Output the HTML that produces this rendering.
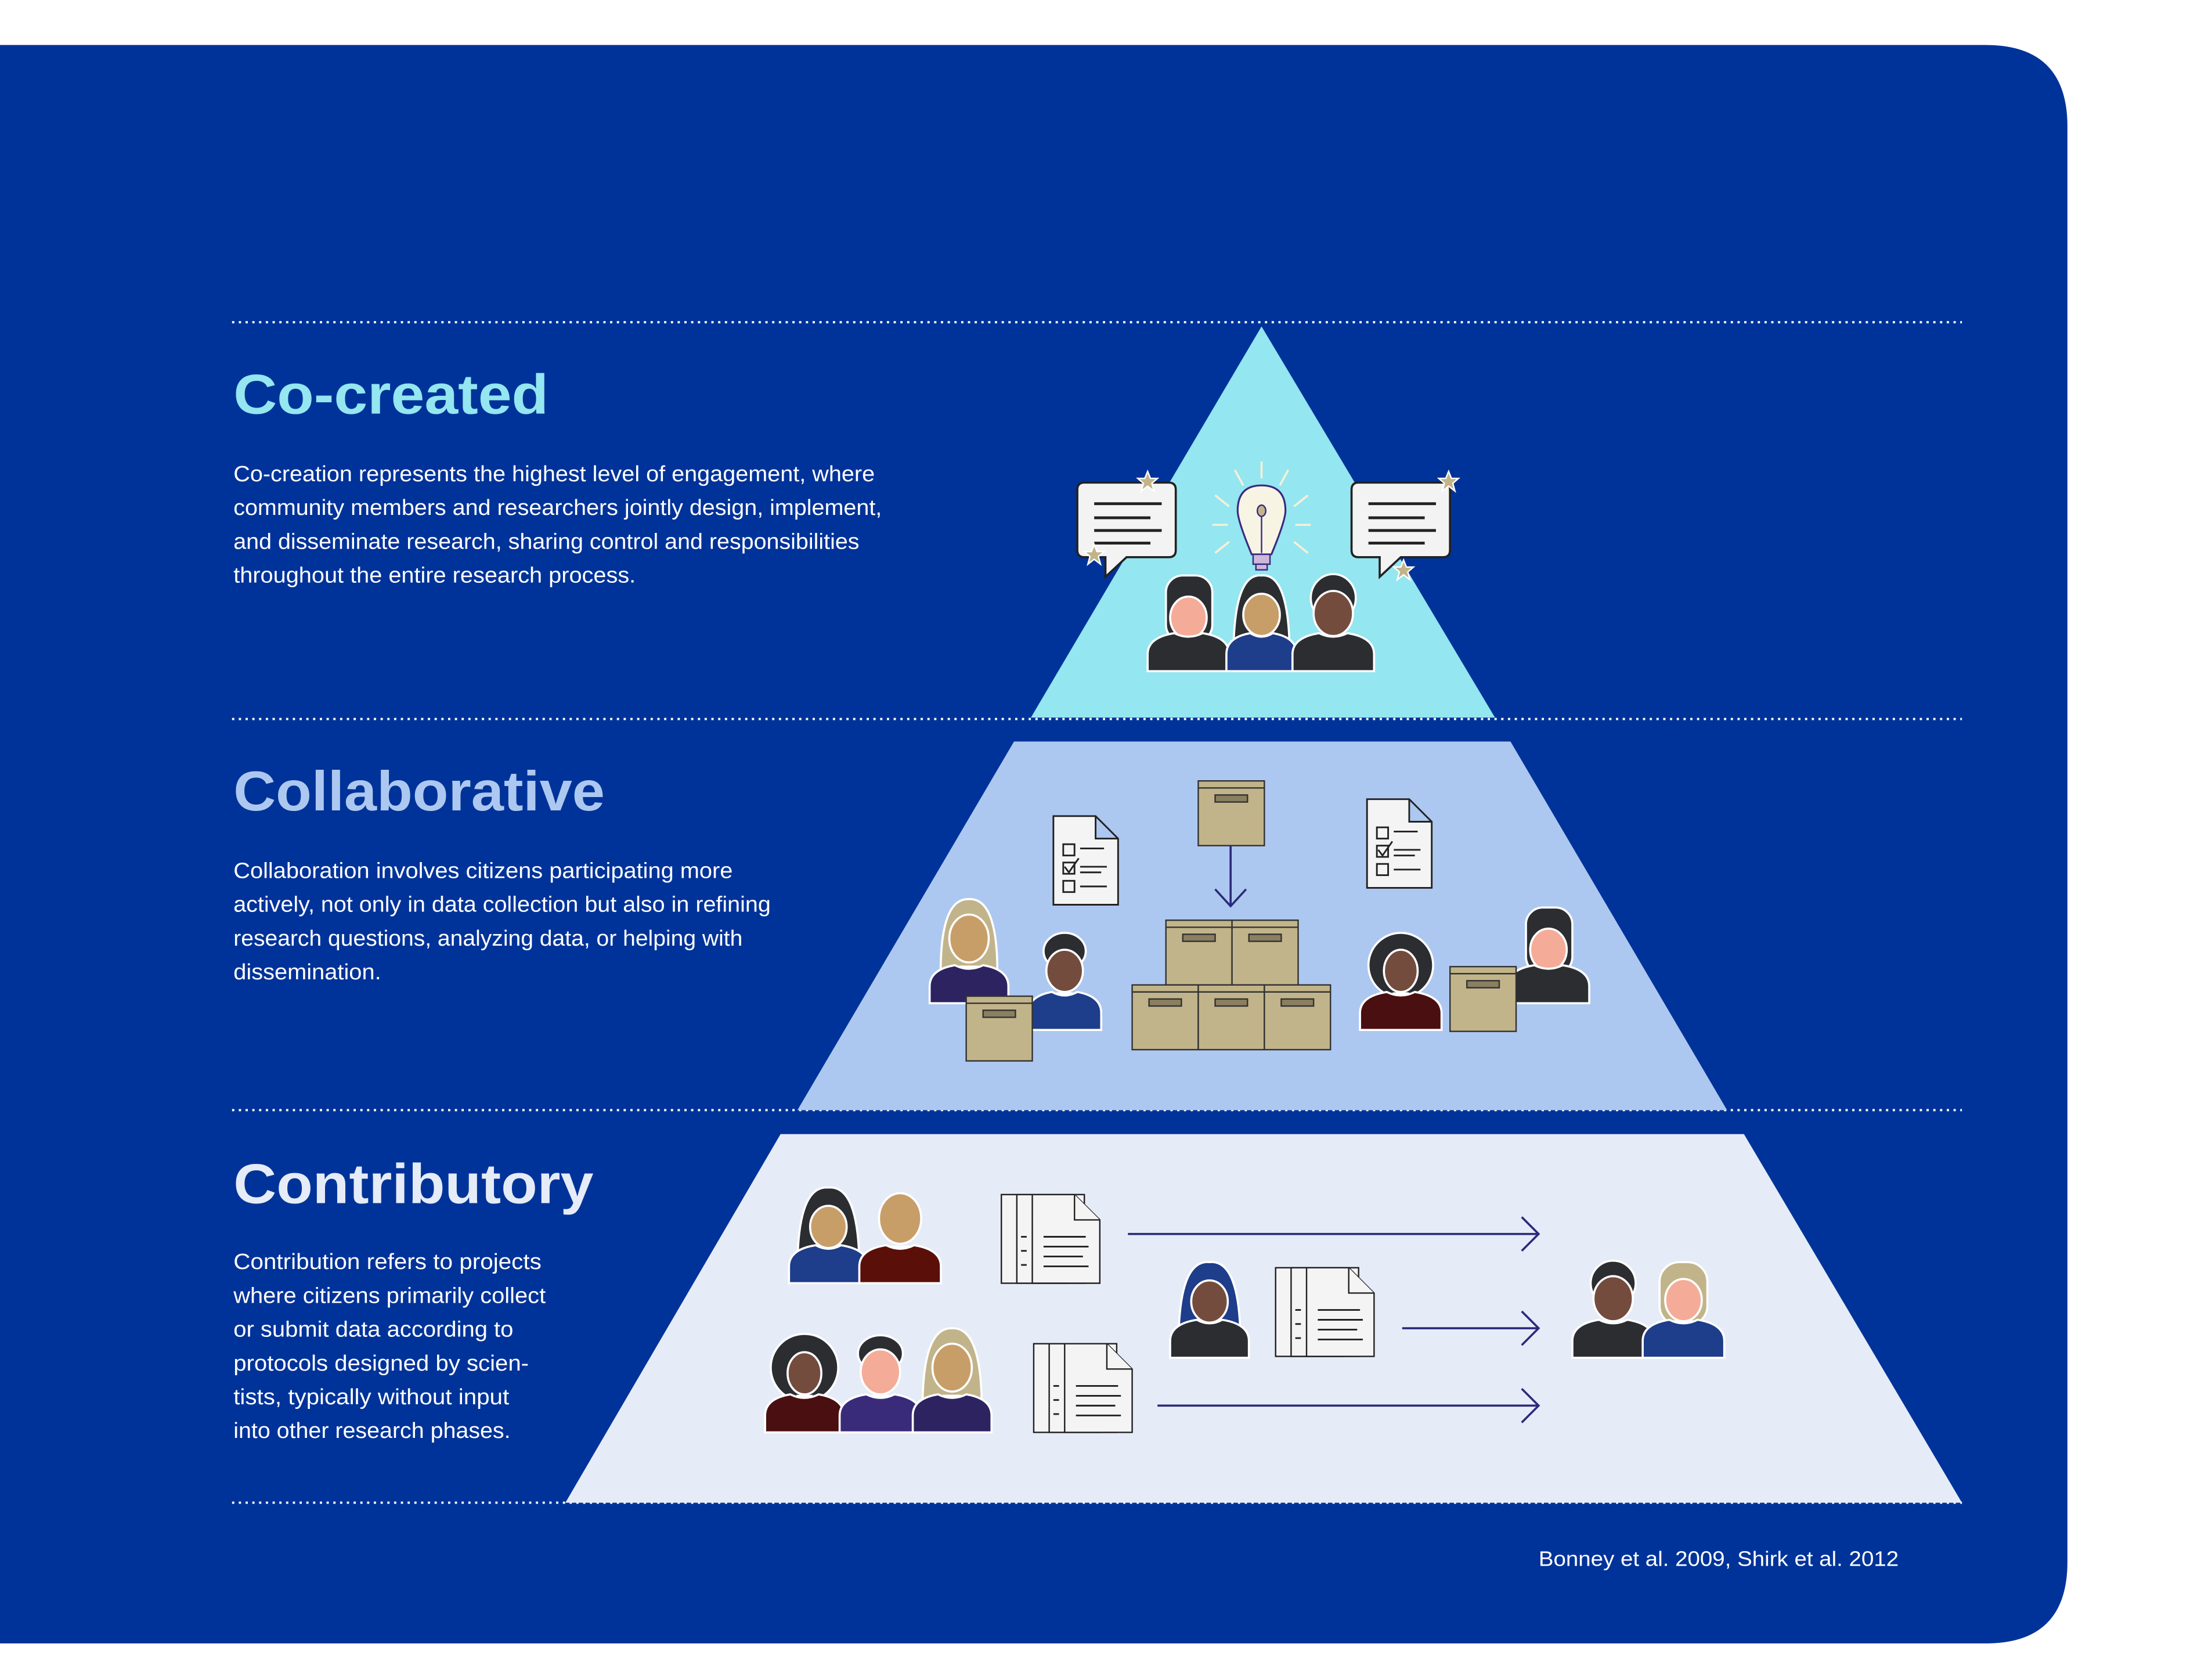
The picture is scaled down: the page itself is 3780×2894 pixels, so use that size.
<!DOCTYPE html>
<html><head><meta charset="utf-8"><style>
html,body{margin:0;padding:0;background:#fff}
svg{display:block}
text{font-family:"Liberation Sans",sans-serif}
</style></head><body>
<svg width="3780" height="2894" viewBox="0 0 1560 1194" preserveAspectRatio="none" xmlns="http://www.w3.org/2000/svg">
<rect width="1560" height="1194" fill="#fff"/>
<path d="M0,32 H1412 Q1470,32 1470,90 V1110 Q1470,1168 1412,1168 H0 Z" fill="#003399"/>
<g stroke="#fff" stroke-width="1.6" stroke-dasharray="1.6 3.2">
<line x1="165" y1="229" x2="1395" y2="229"/><line x1="165" y1="511" x2="1395" y2="511"/>
<line x1="165" y1="789" x2="1395" y2="789"/><line x1="165" y1="1068" x2="1395" y2="1068"/>
</g>
<polygon points="897,232 1063,510 733,510" fill="#94e6f0"/>
<polygon points="721,527 1074,527 1228,789 567,789" fill="#adc8f0"/>
<polygon points="555,806 1240,806 1395,1068 402,1068" fill="#e5ecf7"/>

<g lengthAdjust="spacingAndGlyphs">
<text x="166" y="294" font-size="40" font-weight="bold" fill="#94e6f0" textLength="224" lengthAdjust="spacingAndGlyphs">Co-created</text>
<text x="166" y="576" font-size="40" font-weight="bold" fill="#adc8f0" textLength="264" lengthAdjust="spacingAndGlyphs">Collaborative</text>
<text x="166" y="855" font-size="40" font-weight="bold" fill="#e5ecf7" textLength="256" lengthAdjust="spacingAndGlyphs">Contributory</text>
</g>
<g font-size="15.5" fill="#fff">
<text x="166" y="342" textLength="456" lengthAdjust="spacingAndGlyphs">Co-creation represents the highest level of engagement, where</text>
<text x="166" y="366" textLength="461" lengthAdjust="spacingAndGlyphs">community members and researchers jointly design, implement,</text>
<text x="166" y="390" textLength="445" lengthAdjust="spacingAndGlyphs">and disseminate research, sharing control and responsibilities</text>
<text x="166" y="414" textLength="286" lengthAdjust="spacingAndGlyphs">throughout the entire research process.</text>
<text x="166" y="624" textLength="355" lengthAdjust="spacingAndGlyphs">Collaboration involves citizens participating more</text>
<text x="166" y="648" textLength="382" lengthAdjust="spacingAndGlyphs">actively, not only in data collection but also in refining</text>
<text x="166" y="672" textLength="362" lengthAdjust="spacingAndGlyphs">research questions, analyzing data, or helping with</text>
<text x="166" y="696" textLength="105" lengthAdjust="spacingAndGlyphs">dissemination.</text>
<text x="166" y="902" textLength="219" lengthAdjust="spacingAndGlyphs">Contribution refers to projects</text>
<text x="166" y="926" textLength="222" lengthAdjust="spacingAndGlyphs">where citizens primarily collect</text>
<text x="166" y="950" textLength="199" lengthAdjust="spacingAndGlyphs">or submit data according to</text>
<text x="166" y="974" textLength="210" lengthAdjust="spacingAndGlyphs">protocols designed by scien-</text>
<text x="166" y="998" textLength="196" lengthAdjust="spacingAndGlyphs">tists, typically without input</text>
<text x="166" y="1022" textLength="197" lengthAdjust="spacingAndGlyphs">into other research phases.</text>
<text x="1094" y="1113" font-size="15" textLength="256" lengthAdjust="spacingAndGlyphs">Bonney et al. 2009, Shirk et al. 2012</text>
</g>

<defs>
<g id="docs"><g stroke="#222" stroke-width="1" fill="#f4f4f4">
<rect x="0" y="0" width="48" height="63"/><rect x="11" y="0" width="48" height="63"/>
<path d="M22,0 H52 L70,18 V63 H22 Z"/><path d="M52,0 V18 H70"/></g>
<g stroke="#222" stroke-width="1.2"><line x1="30" y1="30" x2="60" y2="30"/><line x1="30" y1="37" x2="62" y2="37"/><line x1="30" y1="44" x2="58" y2="44"/><line x1="30" y1="51" x2="62" y2="51"/>
<line x1="14" y1="30" x2="18" y2="30"/><line x1="14" y1="40" x2="18" y2="40"/><line x1="14" y1="50" x2="18" y2="50"/></g></g>
<g id="check"><path d="M0,0 H30 L46,16 V63 H0 Z M30,0 V16 H46" fill="#f4f4f4" stroke="#222" stroke-width="1.2"/>
<g stroke="#222" stroke-width="1.2" fill="none"><rect x="7" y="20" width="8" height="8"/><rect x="7" y="33" width="8" height="8"/><rect x="7" y="46" width="8" height="8"/>
<line x1="19" y1="23" x2="36" y2="23"/><line x1="19" y1="36" x2="38" y2="36"/><line x1="19" y1="40" x2="34" y2="40"/><line x1="19" y1="50" x2="38" y2="50"/><path d="M8,36 L11,40 L18,30"/></g></g>
<g id="box"><rect x="0" y="0" width="47" height="46" fill="#c2b48a" stroke="#333" stroke-width="1"/><line x1="0" y1="5" x2="47" y2="5" stroke="#333" stroke-width="1"/><rect x="12" y="10" width="23" height="5" fill="#8a7f60" stroke="#333" stroke-width="1"/></g>
<g id="bubble"><path d="M5,0 H65 Q70,0 70,5 V48 Q70,53 65,53 H35 L20,67 V53 H5 Q0,53 0,48 V5 Q0,0 5,0 Z" fill="#f3f3f3" stroke="#222" stroke-width="1.5"/>
<g stroke="#222" stroke-width="2"><line x1="12" y1="15" x2="60" y2="15"/><line x1="12" y1="25" x2="52" y2="25"/><line x1="12" y1="34" x2="60" y2="34"/><line x1="12" y1="43" x2="52" y2="43"/></g></g>
<path id="star" d="M0,-7 L2,-2 L7,-2 L3,1.5 L4.5,7 L0,3.5 L-4.5,7 L-3,1.5 L-7,-2 L-2,-2 Z" fill="#c2b48a" stroke="#fff" stroke-width="1"/>
</defs>

<use href="#bubble" x="766" y="343"/>
<use href="#bubble" x="961" y="343"/>
<use href="#star" x="816" y="342"/><use href="#star" x="778" y="394"/><use href="#star" x="1030" y="342"/><use href="#star" x="998" y="405"/>
<g stroke="#f5f0d8" stroke-width="1.5"><line x1="897" y1="328" x2="897" y2="340"/><line x1="878" y1="334" x2="884" y2="345"/><line x1="916" y1="334" x2="910" y2="345"/><line x1="864" y1="352" x2="874" y2="360"/><line x1="930" y1="352" x2="920" y2="360"/><line x1="862" y1="373" x2="873" y2="373"/><line x1="921" y1="373" x2="932" y2="373"/><line x1="864" y1="393" x2="874" y2="385"/><line x1="930" y1="393" x2="920" y2="385"/></g>
<path d="M890,394 Q880,370 880,363 Q880,345 897,345 Q914,345 914,363 Q914,370 904,394 Z" fill="#f7f4e4" stroke="#3a2a80" stroke-width="1.3"/>
<line x1="897" y1="366" x2="897" y2="393" stroke="#3a2a80"/><ellipse cx="897" cy="363" rx="3" ry="4" fill="#c2b48a" stroke="#3a2a80"/>
<rect x="891" y="394" width="12" height="7" fill="#cdb8dc" stroke="#3a2a80"/><rect x="893" y="401" width="8" height="4" fill="#cdb8dc" stroke="#3a2a80"/>

<g stroke="#fff" stroke-width="1.5">
<g transform="translate(845,477)"><rect x="-16" y="-68" width="33" height="47" rx="12" fill="#2b2d31"/><rect x="-6" y="-26" width="12" height="10" fill="#f4ac98"/><ellipse cx="0" cy="-38" rx="13" ry="15" fill="#f4ac98"/><path d="M-29,0 V-12 Q-29,-24 -10,-27 Q0,-22 10,-27 Q29,-24 29,-12 V0 Z" fill="#2b2d31"/></g>
<g transform="translate(897,477)"><path d="M-20,-10 Q-20,-70 0,-68 Q20,-70 20,-10 Z" fill="#2b2d31"/><rect x="-6" y="-26" width="12" height="10" fill="#c89e68"/><ellipse cx="0" cy="-40" rx="13" ry="15" fill="#c89e68"/><path d="M-25,0 V-12 Q-25,-24 -8,-27 Q0,-22 8,-27 Q25,-24 25,-12 V0 Z" fill="#1e3d8a"/></g>
<g transform="translate(948,477)"><ellipse cx="0" cy="-52" rx="16" ry="17" fill="#2b2d31"/><rect x="-6" y="-26" width="12" height="10" fill="#744c3e"/><ellipse cx="0" cy="-41" rx="14" ry="16" fill="#744c3e"/><path d="M-29,0 V-12 Q-29,-24 -10,-27 Q0,-22 10,-27 Q29,-24 29,-12 V0 Z" fill="#2b2d31"/></g>
<g transform="translate(689,713)"><path d="M-20,-12 Q-22,-75 0,-74 Q22,-75 20,-12 Z" fill="#c2b48a"/><rect x="-6" y="-26" width="12" height="10" fill="#c89e68"/><ellipse cx="0" cy="-46" rx="14" ry="17" fill="#c89e68"/><path d="M-28,0 V-12 Q-28,-24 -10,-27 Q0,-22 10,-27 Q28,-24 28,-12 V0 Z" fill="#2d2360"/></g>
<g transform="translate(757,732)"><ellipse cx="0" cy="-56" rx="15" ry="13" fill="#2b2d31"/><rect x="-5" y="-26" width="10" height="10" fill="#744c3e"/><ellipse cx="0" cy="-42" rx="13" ry="15" fill="#744c3e"/><path d="M-26,0 V-12 Q-26,-24 -9,-27 Q0,-22 9,-27 Q26,-24 26,-12 V0 Z" fill="#1e3d8a"/></g>
<g transform="translate(996,732)"><circle cx="0" cy="-46" r="23" fill="#2b2d31"/><rect x="-5" y="-26" width="10" height="10" fill="#744c3e"/><ellipse cx="0" cy="-42" rx="12" ry="15" fill="#744c3e"/><path d="M-29,0 V-12 Q-29,-24 -10,-27 Q0,-22 10,-27 Q29,-24 29,-12 V0 Z" fill="#4a0f10"/></g>
<g transform="translate(1101,713)"><rect x="-16" y="-68" width="33" height="47" rx="12" fill="#2b2d31"/><rect x="-6" y="-26" width="12" height="10" fill="#f4ac98"/><ellipse cx="0" cy="-38" rx="13" ry="15" fill="#f4ac98"/><path d="M-29,0 V-12 Q-29,-24 -10,-27 Q0,-22 10,-27 Q29,-24 29,-12 V0 Z" fill="#2b2d31"/></g>
<g transform="translate(589,912)"><path d="M-22,-10 Q-22,-70 0,-68 Q22,-70 22,-10 Z" fill="#2b2d31"/><rect x="-6" y="-26" width="12" height="10" fill="#c89e68"/><ellipse cx="0" cy="-40" rx="13" ry="15" fill="#c89e68"/><path d="M-28,0 V-12 Q-28,-24 -9,-27 Q0,-22 9,-27 Q28,-24 28,-12 V0 Z" fill="#1e3d8a"/></g>
<g transform="translate(640,912)"><rect x="-6" y="-26" width="12" height="10" fill="#c89e68"/><ellipse cx="0" cy="-46" rx="15" ry="18" fill="#c89e68"/><path d="M-29,0 V-12 Q-29,-24 -10,-27 Q0,-22 10,-27 Q29,-24 29,-12 V0 Z" fill="#5a1008"/></g>
<g transform="translate(572,1018)"><circle cx="0" cy="-46" r="24" fill="#2b2d31"/><rect x="-5" y="-26" width="10" height="10" fill="#744c3e"/><ellipse cx="0" cy="-42" rx="12" ry="15" fill="#744c3e"/><path d="M-28,0 V-12 Q-28,-24 -10,-27 Q0,-22 10,-27 Q28,-24 28,-12 V0 Z" fill="#4a0f10"/></g>
<g transform="translate(626,1018)"><ellipse cx="0" cy="-56" rx="16" ry="13" fill="#2b2d31"/><rect x="-6" y="-26" width="12" height="10" fill="#f4ac98"/><ellipse cx="0" cy="-43" rx="14" ry="16" fill="#f4ac98"/><path d="M-29,0 V-12 Q-29,-24 -10,-27 Q0,-22 10,-27 Q29,-24 29,-12 V0 Z" fill="#3a2a7a"/></g>
<g transform="translate(677,1018)"><path d="M-21,-12 Q-22,-75 0,-74 Q22,-75 21,-12 Z" fill="#c2b48a"/><rect x="-6" y="-26" width="12" height="10" fill="#c89e68"/><ellipse cx="0" cy="-46" rx="14" ry="17" fill="#c89e68"/><path d="M-28,0 V-12 Q-28,-24 -10,-27 Q0,-22 10,-27 Q28,-24 28,-12 V0 Z" fill="#2d2360"/></g>
<g transform="translate(860,965)"><path d="M-22,-10 Q-22,-70 0,-68 Q22,-70 22,-10 Z" fill="#1e3d8a"/><rect x="-6" y="-26" width="12" height="10" fill="#744c3e"/><ellipse cx="0" cy="-40" rx="13" ry="15" fill="#744c3e"/><path d="M-28,0 V-12 Q-28,-24 -9,-27 Q0,-22 9,-27 Q28,-24 28,-12 V0 Z" fill="#2b2d31"/></g>
<g transform="translate(1147,965)"><ellipse cx="0" cy="-53" rx="16" ry="16" fill="#2b2d31"/><rect x="-6" y="-26" width="12" height="10" fill="#744c3e"/><ellipse cx="0" cy="-42" rx="14" ry="16" fill="#744c3e"/><path d="M-29,0 V-12 Q-29,-24 -10,-27 Q0,-22 10,-27 Q29,-24 29,-12 V0 Z" fill="#2b2d31"/></g>
<g transform="translate(1197,965)"><rect x="-17" y="-68" width="34" height="45" rx="14" fill="#c2b48a"/><rect x="-6" y="-26" width="12" height="10" fill="#f4ac98"/><ellipse cx="0" cy="-41" rx="13" ry="15" fill="#f4ac98"/><path d="M-29,0 V-12 Q-29,-24 -10,-27 Q0,-22 10,-27 Q29,-24 29,-12 V0 Z" fill="#1e3d8a"/></g>
</g>

<use href="#check" x="749" y="580"/><use href="#check" x="972" y="568"/>
<use href="#box" x="852" y="555"/>
<line x1="875" y1="601" x2="875" y2="644" stroke="#2a2a7a" stroke-width="1.5"/><path d="M864,632 L875,644 L886,632" fill="none" stroke="#2a2a7a" stroke-width="1.5"/>
<use href="#box" x="829" y="654"/><use href="#box" x="876" y="654"/>
<use href="#box" x="805" y="700"/><use href="#box" x="852" y="700"/><use href="#box" x="899" y="700"/>
<use href="#box" x="687" y="708"/><use href="#box" x="1031" y="687"/>

<use href="#docs" x="712" y="849"/><use href="#docs" x="907" y="901"/><use href="#docs" x="735" y="955"/>
<g stroke="#2a2a7a" stroke-width="1.5" fill="none">
<line x1="802" y1="877" x2="1094" y2="877"/><path d="M1082,865 L1094,877 L1082,889"/>
<line x1="997" y1="944" x2="1094" y2="944"/><path d="M1082,932 L1094,944 L1082,956"/>
<line x1="823" y1="999" x2="1094" y2="999"/><path d="M1082,987 L1094,999 L1082,1011"/>
</g>
</svg>
</body></html>
